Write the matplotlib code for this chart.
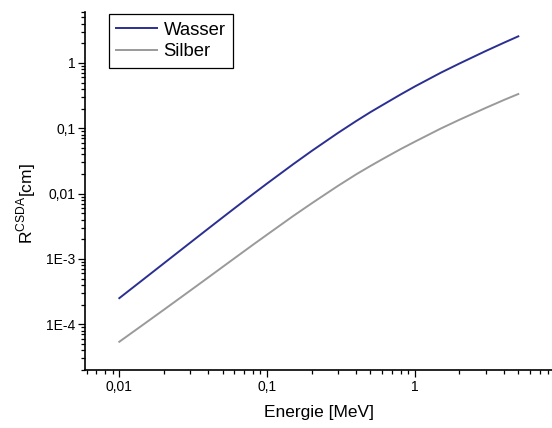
import matplotlib
matplotlib.use("Agg")
import matplotlib.pyplot as plt
from matplotlib.ticker import FixedLocator, FixedFormatter, LogLocator, NullFormatter

plt.rcParams["font.family"] = ["Liberation Sans", "DejaVu Sans"]
plt.rcParams["mathtext.fontset"] = "custom"
plt.rcParams["mathtext.rm"] = "Liberation Sans"
plt.rcParams["mathtext.sf"] = "Liberation Sans"

# Energie [MeV] und CSDA-Reichweite [cm]
energie = [0.01, 0.015, 0.02, 0.03, 0.04, 0.05, 0.06, 0.08, 0.1, 0.15, 0.2,
           0.3, 0.4, 0.5, 0.6, 0.8, 1.0, 1.5, 2.0, 3.0, 4.0, 5.0]
wasser = [2.515e-4, 5.147e-4, 8.566e-4, 1.756e-3, 2.919e-3, 4.320e-3, 5.940e-3,
          9.779e-3, 1.431e-2, 2.817e-2, 4.488e-2, 8.421e-2, 0.1288, 0.1766,
          0.2250, 0.329, 0.4367, 0.7102, 0.9785, 1.514, 2.037, 2.550]
silber = [5.41e-5, 1.045e-4, 1.67e-4, 3.25e-4, 5.22e-4, 7.56e-4, 1.022e-3,
          1.643e-3, 2.36e-3, 4.54e-3, 7.09e-3, 1.305e-2, 1.97e-2, 2.65e-2,
          3.35e-2, 4.80e-2, 6.24e-2, 9.94e-2, 0.135, 0.204, 0.271, 0.334]

x_ticks = [0.01, 0.1, 1]
x_labels = ["0,01", "0,1", "1"]
y_ticks = [1e-4, 1e-3, 1e-2, 1e-1, 1]
y_labels = ["1E-4", "1E-3", "0,01", "0,1", "1"]

fig = plt.figure(figsize=(5.52, 4.28), dpi=100)
ax = fig.add_axes([0.154, 0.1355, 0.846, 0.8364])

ax.plot(energie, wasser, color="#2B2F91", lw=1.4, label="Wasser")
ax.plot(energie, silber, color="#9A9A9A", lw=1.4, label="Silber")

ax.set_xscale("log")
ax.set_yscale("log")
ax.set_xlim(0.00586, 8.45)
ax.set_ylim(2.0e-5, 6.0)

ax.xaxis.set_major_locator(FixedLocator(x_ticks))
ax.xaxis.set_major_formatter(FixedFormatter(x_labels))
ax.yaxis.set_major_locator(FixedLocator(y_ticks))
ax.yaxis.set_major_formatter(FixedFormatter(y_labels))
for axis in (ax.xaxis, ax.yaxis):
    axis.set_minor_locator(LogLocator(base=10, subs=range(2, 10), numticks=20))
    axis.set_minor_formatter(NullFormatter())

ax.tick_params(which="major", direction="out", length=5, width=0.9,
               labelsize=10, pad=2)
ax.tick_params(which="minor", direction="out", length=3, width=0.9)

for side in ("top", "right"):
    ax.spines[side].set_visible(False)
for side in ("left", "bottom"):
    ax.spines[side].set_linewidth(1.2)

ax.set_xlabel("Energie [MeV]", fontsize=12.5, labelpad=8)
ax.set_ylabel(r"R$^{\mathrm{CSDA}}$[cm]", fontsize=12.5)
ax.yaxis.set_label_coords(-0.101, 0.464)

leg = ax.legend(loc="upper left", bbox_to_anchor=(0.0514, 0.994),
                borderaxespad=0, fontsize=13.3, handlelength=2.2,
                handletextpad=0.35, labelspacing=0.25, borderpad=0.4,
                fancybox=False, framealpha=1)
leg.get_frame().set_edgecolor("black")
leg.get_frame().set_linewidth(0.9)

fig.savefig("out.png", dpi=100)
